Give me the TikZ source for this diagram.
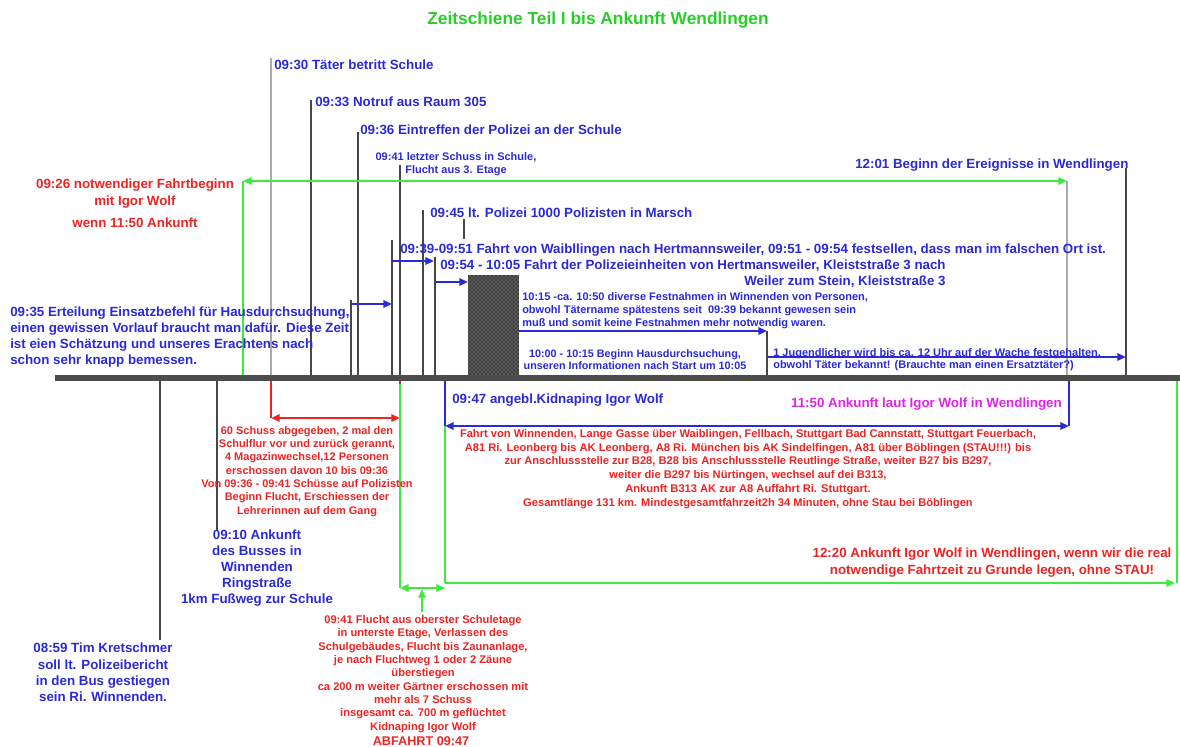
\documentclass[tikz,border=0pt]{standalone}
\usepackage{fontspec}
\setmainfont{Liberation Sans}
\usetikzlibrary{arrows.meta,patterns}
\providecommand{\Blue}{2A2AD8}
\providecommand{\Red}{EC2424}
\providecommand{\Green}{3CEB3C}
\providecommand{\Title}{27CF27}
\providecommand{\Pink}{E024E6}
\newcommand{\Unit}{0.75pt}
\newcommand{\BarY}{378}
\definecolor{tblue}{HTML}{\Blue}
\definecolor{tred}{HTML}{\Red}
\definecolor{tgreen}{HTML}{\Green}
\definecolor{ttitle}{HTML}{\Title}
\definecolor{tpink}{HTML}{\Pink}
\definecolor{tickdark}{HTML}{474747}
\definecolor{ticklight}{HTML}{ABABAB}
\definecolor{timebar}{HTML}{4C4C4C}

\tikzset{
  lblbig/.style={font=\bfseries\fontsize{10}{12}\selectfont, inner sep=0pt},
  lblsmall/.style={font=\bfseries\fontsize{8.25}{10}\selectfont, inner sep=0pt},
  barrow/.style={tblue, line width=1.5pt, ->},
  garrow/.style={tgreen, line width=1.5pt},
  rarrow/.style={tred, line width=1.5pt},
}

\begin{document}
\begin{tikzpicture}[x=\Unit,y=-\Unit, line join=round, >={Triangle[length=6.5pt,width=5.5pt]}]
  \useasboundingbox (0,0) rectangle (1180,746);

  % ---- title --------------------------------------------------------------
  \node[font=\bfseries\fontsize{13}{15}\selectfont, text=ttitle, inner sep=0pt] (title) at (598,20)
    {Zeitschiene Teil I bis Ankunft Wendlingen};

  % ---- ticks above the bar ------------------------------------------------
  \foreach \x/\top/\col [count=\i] in {271/58/ticklight, 311/100/tickdark, 351/300/tickdark,
      358/132/tickdark, 392/240/tickdark, 400/165/tickdark, 423/210/tickdark, 435/257/tickdark,
      767/331/tickdark, 1067/181/ticklight, 1126/168/tickdark} {
    \coordinate (up\i) at (\x,\top);
    \coordinate (foot\i) at (\x,\BarY);
    \draw[\col, line width=1.5pt] (up\i) -- (foot\i);
  }
  \coordinate (marschA) at (464,219);
  \coordinate (marschB) at (464,239);
  \draw[tickdark, line width=1.5pt] (marschA) -- (marschB);

  % ---- ticks below the bar ------------------------------------------------
  \coordinate (busTop) at (160,\BarY);  \coordinate (busEnd) at (160,640);
  \coordinate (ankTop) at (217,\BarY);  \coordinate (ankEnd) at (217,530);
  \draw[tickdark, line width=1.5pt] (busTop) -- (busEnd);
  \draw[tickdark, line width=1.5pt] (ankTop) -- (ankEnd);

  % ---- search warrant block ----------------------------------------------
  \fill[timebar!85!black] (468,275) rectangle (519,376);
  \fill[pattern=crosshatch dots, pattern color=gray!70] (468,275) rectangle (519,376);
  \coordinate (blockR) at (519,331);

  % ---- blue arrows above --------------------------------------------------
  \coordinate (b1s) at (351,304);  \coordinate (b1e) at (392,304);
  \coordinate (b2s) at (392,261);  \coordinate (b2e) at (434,261);
  \coordinate (b3s) at (435,282);  \coordinate (b3e) at (468,282);
  \coordinate (b4e) at (767,331);
  \coordinate (b5s) at (767,357);  \coordinate (b5e) at (1126,357);
  \draw[barrow] (b1s) -- (b1e);
  \draw[barrow] (b2s) -- (b2e);
  \draw[barrow] (b3s) -- (b3e);
  \draw[barrow] (blockR) -- (b4e);
  \draw[barrow] (b5s) -- (b5e);

  % ---- green: start of the drive -----------------------------------------
  \coordinate (gFoot) at (243,\BarY);
  \coordinate (gL) at (243,181);
  \coordinate (gR) at (1067,181);
  \draw[garrow] (gFoot) -- (gL);
  \draw[garrow, <->] (gL) -- (gR);

  % ---- red: the shooting --------------------------------------------------
  \coordinate (rL) at (271,418);
  \coordinate (rR) at (400,418);
  \coordinate (rTop) at (400,\BarY);
  \coordinate (rLow) at (400,384);
  \draw[rarrow] (foot1) -- (rL);
  \draw[rarrow] (rTop) -- (rLow);
  \draw[rarrow, <->] (rL) -- (rR);

  % ---- blue: claimed drive ------------------------------------------------
  \coordinate (kTop) at (445,\BarY);  \coordinate (kL) at (445,426);
  \coordinate (wTop) at (1069,\BarY); \coordinate (wR) at (1069,426);
  \draw[tblue, line width=1.5pt] (kTop) -- (kL);
  \draw[tblue, line width=1.5pt] (wTop) -- (wR);
  \draw[tblue, line width=1.5pt, <->] (kL) -- (wR);

  % ---- green: escape and real drive --------------------------------------
  \coordinate (fL) at (400,588);
  \coordinate (fR) at (445,588);
  \coordinate (fMid) at (422,589);
  \coordinate (fLow) at (422,612);
  \coordinate (realL) at (445,583);
  \coordinate (realR) at (1175,583);
  \coordinate (realTop) at (1177,\BarY);
  \coordinate (realBot) at (1177,583);
  \draw[garrow] (rLow) -- (fL);
  \draw[garrow] (kL) -- (realL);
  \draw[garrow, <->] (fL) -- (fR);
  \draw[garrow, ->] (fLow) -- (fMid);
  \draw[garrow, ->] (realL) -- (realR);
  \draw[garrow] (realTop) -- (realBot);

  % ---- the time bar -------------------------------------------------------
  \coordinate (barL) at (55,\BarY);
  \coordinate (barR) at (1180,\BarY);
  \draw[timebar, line width=4.5pt] (barL) -- (barR);

  % ---- labels above -------------------------------------------------------
  \node[lblbig, text=tblue, anchor=base west] (t0930) at (274,69) {09:30 Täter betritt Schule};
  \node[lblbig, text=tblue, anchor=base west] (t0933) at (315,106) {09:33 Notruf aus Raum 305};
  \node[lblbig, text=tblue, anchor=base west] (t0936) at (360,134) {09:36 Eintreffen der Polizei an der Schule};
  \node[font=\bfseries\fontsize{8.25}{9.75}\selectfont, inner sep=0pt, text=tblue, align=center,
    anchor=north] (t0941) at (456,152) {09:41 letzter Schuss in Schule,\\Flucht aus 3. Etage};
  \node[lblbig, text=tblue, anchor=base west] (t0945) at (430,217) {09:45 lt. Polizei 1000 Polizisten in Marsch};
  \node[lblbig, text=tblue, anchor=base west] (t0939) at (400,253)
    {09:39-09:51 Fahrt von Waibllingen nach Hertmannsweiler, 09:51 - 09:54 festsellen, dass man im falschen Ort ist.};
  \node[lblbig, text=tblue, align=right, anchor=north west] (t0954) at (440,260)
    {09:54 - 10:05 Fahrt der Polizeieinheiten von Hertmansweiler, Kleiststraße 3 nach\\Weiler zum Stein, Kleiststraße 3};
  \node[lblbig, text=tblue, anchor=base west] (t1201) at (855,168) {12:01 Beginn der Ereignisse in Wendlingen};
  \node[font=\bfseries\fontsize{10}{12.75}\selectfont, inner sep=0pt, text=tred, align=center,
    anchor=north] (t0926) at (135,179) {09:26 notwendiger Fahrtbeginn\\mit Igor Wolf};
  \node[lblbig, text=tred, anchor=base] (t0926b) at (135,227) {wenn 11:50 Ankunft};
  \node[lblbig, text=tblue, align=left, anchor=north west] (t0935) at (10,307)
    {09:35 Erteilung Einsatzbefehl für Hausdurchsuchung,\\einen gewissen Vorlauf braucht man dafür. Diese Zeit\\ist eien Schätzung und unseres Erachtens nach\\schon sehr knapp bemessen.};
  \node[lblsmall, text=tblue, align=left, anchor=north west] (t1015) at (522,292)
    {10:15 -ca. 10:50 diverse Festnahmen in Winnenden von Personen,\\obwohl Tätername spätestens seit\ \ 09:39 bekannt gewesen sein\\muß und somit keine Festnahmen mehr notwendig waren.};
  \node[lblsmall, font=\bfseries\fontsize{8.1}{9}\selectfont, text=tblue, align=center, anchor=north] (t1000) at (635,349)
    {10:00 - 10:15 Beginn Hausdurchsuchung,\\unseren Informationen nach Start um 10:05};
  \node[lblsmall, font=\bfseries\fontsize{8.25}{9}\selectfont, text=tblue, align=left, anchor=north west] (tjug) at (773,348)
    {1 Jugendlicher wird bis ca. 12 Uhr auf der Wache festgehalten,\\obwohl Täter bekannt! (Brauchte man einen Ersatztäter?)};

  % ---- labels below -------------------------------------------------------
  \node[lblbig, text=tblue, anchor=base west] (t0947) at (452,403) {09:47 angebl.Kidnaping Igor Wolf};
  \node[lblbig, text=tpink, anchor=base east] (t1150) at (1062,407) {11:50 Ankunft laut Igor Wolf in Wendlingen};
  \node[lblsmall, font=\bfseries\fontsize{8.35}{10.35}\selectfont, text=tred, align=center, anchor=north] (troute) at (748,429)
    {Fahrt von Winnenden, Lange Gasse über Waiblingen, Fellbach, Stuttgart Bad Cannstatt, Stuttgart Feuerbach,\\
     A81 Ri. Leonberg bis AK Leonberg, A8 Ri. München bis AK Sindelfingen, A81 über Böblingen (STAU!!!) bis\\
     zur Anschlussstelle zur B28, B28 bis Anschlussstelle Reutlinge Straße, weiter B27 bis B297,\\
     weiter die B297 bis Nürtingen, wechsel auf dei B313,\\
     Ankunft B313 AK zur A8 Auffahrt Ri. Stuttgart.\\
     Gesamtlänge 131 km. Mindestgesamtfahrzeit2h 34 Minuten, ohne Stau bei Böblingen};
  \node[lblsmall, text=tred, align=center, anchor=north] (tschuss) at (307,426)
    {60 Schuss abgegeben, 2 mal den\\Schulflur vor und zurück gerannt,\\4 Magazinwechsel,12 Personen\\erschossen davon 10 bis 09:36\\Von 09:36 - 09:41 Schüsse auf Polizisten\\Beginn Flucht, Erschiessen der\\Lehrerinnen auf dem Gang};
  \node[lblbig, font=\bfseries\fontsize{10}{11.9}\selectfont, text=tblue, align=center, anchor=north] (t0910) at (257,530)
    {09:10 Ankunft\\des Busses in\\Winnenden\\Ringstraße\\1km Fußweg zur Schule};
  \node[lblbig, font=\bfseries\fontsize{10}{12.2}\selectfont, text=tblue, align=center, anchor=north] (t0859) at (103,643)
    {08:59 Tim Kretschmer\\soll lt. Polizeibericht\\in den Bus gestiegen\\sein Ri. Winnenden.};
  \node[lblsmall, font=\bfseries\fontsize{8.35}{10}\selectfont, text=tred, align=center, anchor=north] (tflucht) at (423,615)
    {09:41 Flucht aus oberster Schuletage\\in unterste Etage, Verlassen des\\Schulgebäudes, Flucht bis Zaunanlage,\\je nach Fluchtweg 1 oder 2 Zäune\\überstiegen\\ca 200 m weiter Gärtner erschossen mit\\mehr als 7 Schuss\\insgesamt ca. 700 m geflüchtet\\Kidnaping Igor Wolf};
  \node[font=\bfseries\fontsize{9.5}{11}\selectfont, inner sep=0pt, text=tred, anchor=base] (tabfahrt) at (421,745) {ABFAHRT 09:47};
  \node[lblbig, font=\bfseries\fontsize{10}{12.75}\selectfont, text=tred, align=center, anchor=north] (t1220) at (992,548)
    {12:20 Ankunft Igor Wolf in Wendlingen, wenn wir die real\\notwendige Fahrtzeit zu Grunde legen, ohne STAU!};

\end{tikzpicture}
\end{document}
